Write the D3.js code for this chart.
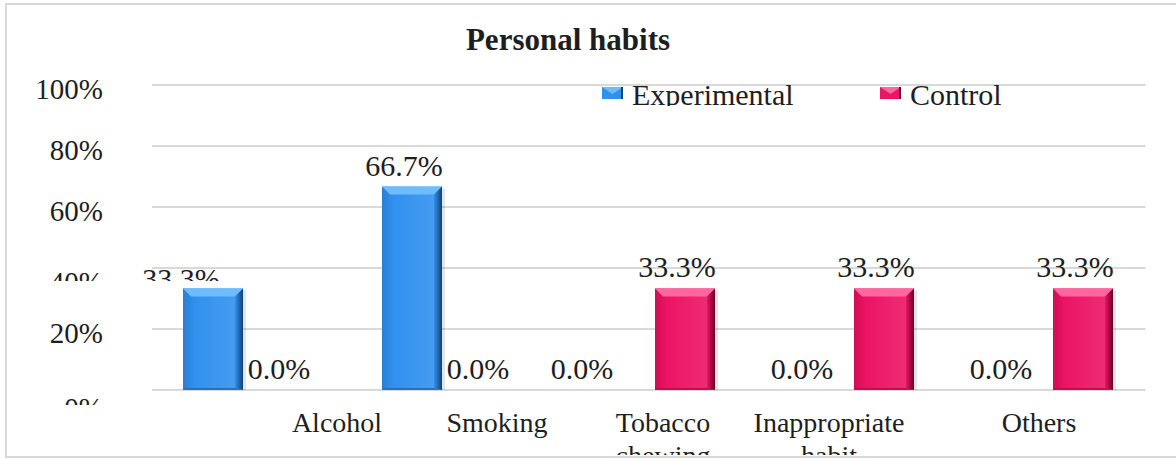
<!DOCTYPE html>
<html>
<head>
<meta charset="utf-8">
<script src="https://cdn.jsdelivr.net/npm/d3@7"></script>
<style>
  html, body { margin: 0; padding: 0; background: #fff; }
  svg { display: block; }
  text { font-family: "Liberation Serif", "Times New Roman", serif; fill: #1e1e1e; }
</style>
</head>
<body>
<svg id="chart" width="1176" height="459"></svg>
<script>
// ---------------- data ----------------
const title = "Personal habits";
const categories = ["Alcohol", "Smoking", "Tobacco chewing", "Inappropriate habit", "Others"];
const seriesNames = ["Experimental", "Control"];
const experimental = [33.3, 66.7, 0.0, 0.0, 0.0];
const control = [0.0, 0.0, 33.3, 33.3, 33.3];
const yTicks = [0, 20, 40, 60, 80, 100];

// ---------------- layout / style ----------------
const W = 1176, H = 459;
const plot = { left: 150.5, right: 1145.5, top: 85, bottom: 390 };
const catLabelShift = [87, 48, 15, -18, -7];   // category labels are offset in the original
const palette = {
  Experimental: { base: "#3191ee", top: "#6cbcff", left: "#2a7fd4", right: "#12406f", bottom: "#2473c2" },
  Control:      { base: "#ec1464", top: "#ff66a0", left: "#d10c55", right: "#6a002a", bottom: "#c80a51" }
};

const svg = d3.select("#chart");
const defs = svg.append("defs");
function clip(id, yMax) {
  defs.append("clipPath").attr("id", id)
    .append("rect").attr("x", 0).attr("y", 0).attr("width", W).attr("height", yMax);
}
clip("clip281", 281);
clip("clip405", 405);
clip("clipLegend", 106);
clip("clipFrame", 455);

// gradients per series
seriesNames.forEach(s => {
  const c = palette[s];
  const gr = defs.append("linearGradient").attr("id", "grad-r-" + s).attr("x1", 0).attr("x2", 1).attr("y1", 0).attr("y2", 0);
  gr.append("stop").attr("offset", "0%").attr("stop-color", c.base);
  gr.append("stop").attr("offset", "100%").attr("stop-color", c.right);
  const gb = defs.append("linearGradient").attr("id", "grad-b-" + s).attr("x1", 0).attr("x2", 1).attr("y1", 0).attr("y2", 0);
  gb.append("stop").attr("offset", "0%").attr("stop-color", c.left);
  gb.append("stop").attr("offset", "20%").attr("stop-color", c.base);
  gb.append("stop").attr("offset", "100%").attr("stop-color", d3.interpolateRgb(c.base, "#ffffff")(0.12));
});

// frame
svg.append("rect").attr("x", 6).attr("y", 4).attr("width", W + 10).attr("height", 453)
  .attr("fill", "#fff").attr("stroke", "#d9d9d9").attr("stroke-width", 2);

// scales
const x0 = d3.scaleBand().domain(categories).range([plot.left, plot.right]).paddingInner(0).paddingOuter(0);
const x1 = d3.scaleBand().domain(seriesNames).range([0, x0.bandwidth()]).paddingInner(0.189).paddingOuter(0.439);
const y = d3.scaleLinear().domain([0, 100]).range([plot.bottom, plot.top]);

// gridlines
svg.append("g").selectAll("line").data(yTicks).join("line")
  .attr("x1", plot.left + 1.5).attr("x2", plot.right)
  .attr("y1", d => y(d)).attr("y2", d => y(d))
  .attr("stroke", "#d9d9d9").attr("stroke-width", 2);

// y tick labels
const fmtTick = d => d + "%";
svg.append("g").selectAll("text").data(yTicks).join("text")
  .attr("x", 103)
  .attr("y", d => {
    if (d === 40) return y(d) + 24;   // displaced & cut in the original
    if (d === 0) return y(d) + 28;
    return y(d) + 13.5;
  })
  .attr("text-anchor", "end")
  .attr("font-size", 29)
  .attr("clip-path", d => d === 40 ? "url(#clip281)" : d === 0 ? "url(#clip405)" : null)
  .text(fmtTick);

// title
svg.append("text").attr("x", 568).attr("y", 50).attr("text-anchor", "middle")
  .attr("font-size", 31).attr("font-weight", "bold").text(title);

// bars
const rows = categories.map((c, i) => ({ cat: c, i, values: [
  { s: "Experimental", v: experimental[i] },
  { s: "Control", v: control[i] }
]}));

function bevelBar(g, x, yTop, w, h, s) {
  const col = palette[s];
  const b = Math.min(8, h / 2, w / 2);
  const x2 = x + w, y2 = yTop + h;
  g.append("rect").attr("x", x).attr("y", yTop).attr("width", w).attr("height", h).attr("fill", "url(#grad-b-" + s + ")");
  g.append("polygon").attr("points", [[x, yTop], [x2, yTop], [x2 - b, yTop + b], [x + b, yTop + b]].join(" ")).attr("fill", col.top);
  g.append("polygon").attr("points", [[x2, yTop], [x2, y2], [x2 - b, y2 - 2], [x2 - b, yTop + b]].join(" ")).attr("fill", "url(#grad-r-" + s + ")");
  g.append("polygon").attr("points", [[x, y2], [x + 2, y2 - 2], [x2 - b, y2 - 2], [x2, y2]].join(" ")).attr("fill", col.bottom);
}

const barsG = svg.append("g");
rows.forEach(r => {
  r.values.forEach(d => {
    if (d.v <= 0) return;
    const bx = x0(r.cat) + x1(d.s);
    const by = y(d.v);
    const g = barsG.append("g");
    g.append("rect").attr("x", bx + 3).attr("y", by + 2).attr("width", x1.bandwidth()).attr("height", y(0) - by - 2)
      .attr("fill", "#000").attr("opacity", 0.1);
    bevelBar(g, bx, by, x1.bandwidth(), y(0) - by, d.s);
  });
});

// value labels
const fmtVal = v => v.toFixed(1) + "%";
const labelsG = svg.append("g");
rows.forEach(r => {
  r.values.forEach(d => {
    const cx = x0(r.cat) + x1(d.s) + x1.bandwidth() / 2;
    let dx = -8, yy = y(d.v) - 11, clipId = null;
    if (r.i === 0 && d.s === "Experimental") { dx = -32; yy = y(d.v) + 1; clipId = "url(#clip281)"; }
    if (r.i === 2 && d.s === "Experimental") { dx = -29; }
    labelsG.append("text")
      .attr("x", cx + dx).attr("y", yy)
      .attr("text-anchor", "middle").attr("font-size", 30)
      .attr("clip-path", clipId)
      .text(fmtVal(d.v));
  });
});

// category labels
const catG = svg.append("g").attr("clip-path", "url(#clipFrame)");
categories.forEach((c, i) => {
  const cx = x0(c) + x0.bandwidth() / 2 + catLabelShift[i];
  const t = catG.append("text").attr("text-anchor", "middle").attr("font-size", 28);
  c.split(" ").forEach((w, k) => {
    t.append("tspan").attr("x", cx).attr("y", 432 + k * 33).text(w);
  });
});

// legend
const legendX = [602, 880];
const legG = svg.append("g");
seriesNames.forEach((s, i) => {
  const g = legG.append("g");
  const col = palette[s];
  g.append("rect").attr("x", legendX[i]).attr("y", 87).attr("width", 21).attr("height", 12).attr("fill", col.base);
  g.append("polygon").attr("points", [[legendX[i], 87], [legendX[i] + 21, 87], [legendX[i] + 10.5, 94]].join(" ")).attr("fill", col.top);
  g.append("rect").attr("x", legendX[i] + 19).attr("y", 87).attr("width", 2).attr("height", 12).attr("fill", col.right);
  g.append("text").attr("x", legendX[i] + 30).attr("y", 105).attr("font-size", 30)
    .attr("clip-path", "url(#clipLegend)").text(s);
});
</script>
</body>
</html>
